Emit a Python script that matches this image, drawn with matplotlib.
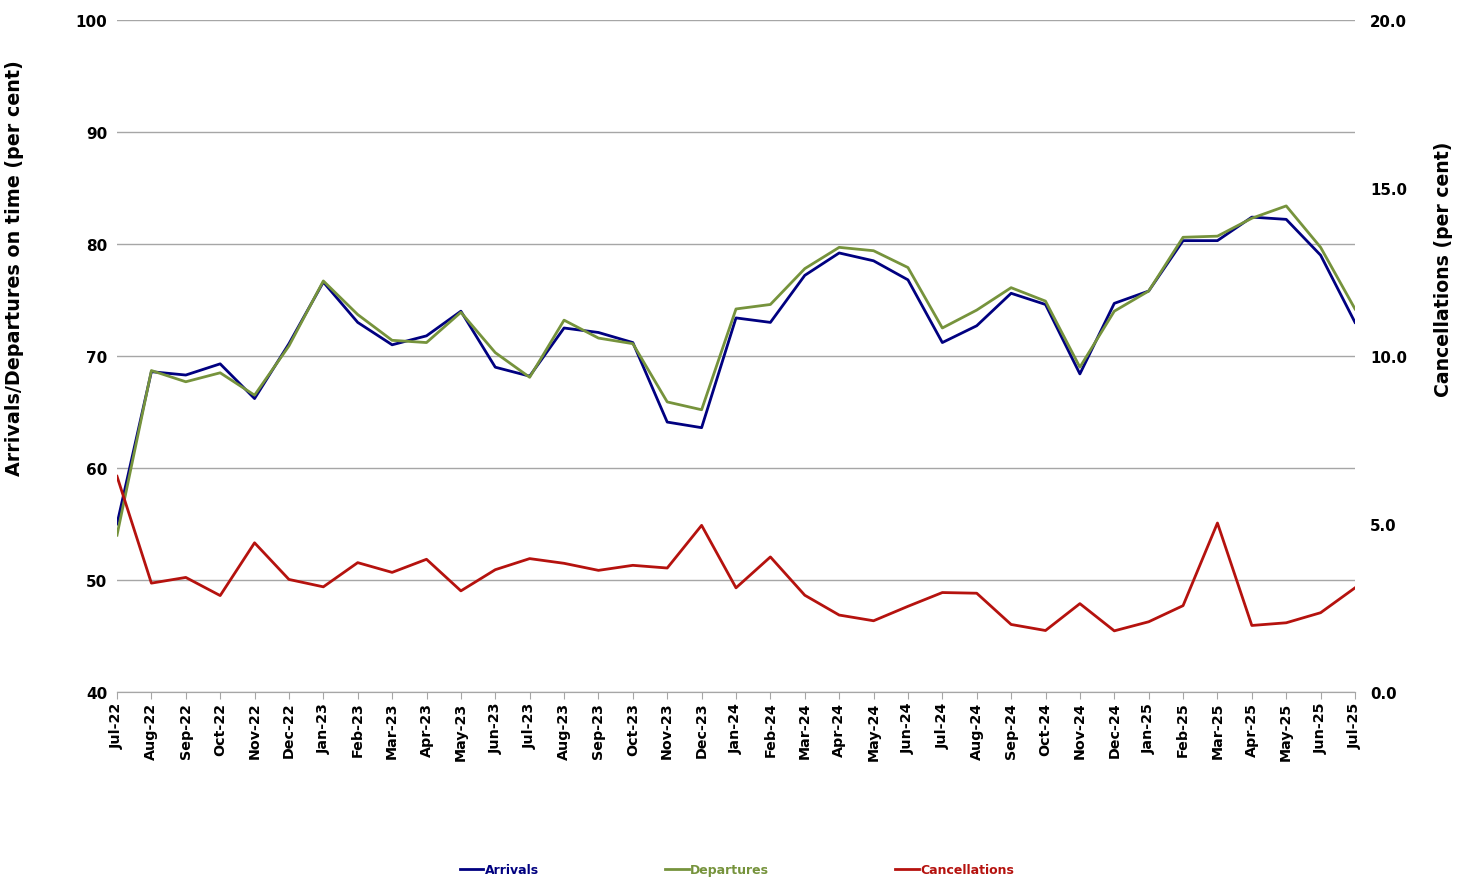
import matplotlib.pyplot as plt

# Monatsbeschriftungen
months = ['Jul-22', 'Aug-22', 'Sep-22', 'Oct-22', 'Nov-22', 'Dec-22',
          'Jan-23', 'Feb-23', 'Mar-23', 'Apr-23', 'May-23', 'Jun-23',
          'Jul-23', 'Aug-23', 'Sep-23', 'Oct-23', 'Nov-23', 'Dec-23',
          'Jan-24', 'Feb-24', 'Mar-24', 'Apr-24', 'May-24', 'Jun-24',
          'Jul-24', 'Aug-24', 'Sep-24', 'Oct-24', 'Nov-24', 'Dec-24',
          'Jan-25', 'Feb-25', 'Mar-25', 'Apr-25', 'May-25', 'Jun-25',
          'Jul-25']

arrivals = [55.0, 68.6, 68.3, 69.3, 66.2, 71.1, 76.6, 73.0, 71.0, 71.8,
            74.0, 69.0, 68.2, 72.5, 72.1, 71.2, 64.1, 63.6, 73.4, 73.0,
            77.2, 79.2, 78.5, 76.8, 71.2, 72.7, 75.6, 74.6, 68.4, 74.7,
            75.8, 80.3, 80.3, 82.4, 82.2, 79.0, 73.0]

departures = [54.0, 68.7, 67.7, 68.5, 66.5, 70.9, 76.7, 73.7, 71.4, 71.2,
              73.9, 70.3, 68.1, 73.2, 71.6, 71.1, 65.9, 65.2, 74.2, 74.6,
              77.8, 79.7, 79.4, 77.9, 72.5, 74.1, 76.1, 74.9, 69.0, 74.0,
              75.8, 80.6, 80.7, 82.3, 83.4, 79.7, 74.2]

cancellations = [6.42, 3.24, 3.41, 2.87, 4.44, 3.35, 3.13, 3.85, 3.56, 3.95,
                 3.01, 3.64, 3.97, 3.83, 3.62, 3.77, 3.69, 4.96, 3.10, 4.02,
                 2.88, 2.29, 2.12, 2.55, 2.96, 2.94, 2.01, 1.83, 2.63, 1.82,
                 2.09, 2.57, 5.03, 1.98, 2.06, 2.36, 3.10]

x = list(range(len(months)))

fig = plt.figure(figsize=(14.68, 8.95), dpi=100)
ax = fig.add_axes([117/1468, 1 - 693/895, (1355-117)/1468, (693-21)/895])
ax2 = ax.twinx()

l1, = ax.plot(x, arrivals, color='#000080', lw=2, label='Arrivals')
l2, = ax.plot(x, departures, color='#76933C', lw=2, label='Departures')
l3, = ax2.plot(x, cancellations, color='#B5120E', lw=2, label='Cancellations')

ax.set_ylim(40, 100)
ax.set_yticks(range(40, 101, 10))
ax2.set_ylim(0, 20)
ax2.set_yticks([0, 5, 10, 15, 20])
ax2.set_yticklabels(['%.1f' % v for v in [0, 5, 10, 15, 20]])
ax.set_xlim(0, len(months) - 1)
ax.set_xticks(x)
ax.set_xticklabels(months, rotation=90, fontsize=10.3, fontweight='bold')

ax.grid(axis='y', color='#A6A6A6', lw=1)
ax.set_axisbelow(True)
for a in (ax, ax2):
    for s in ('top', 'left', 'right'):
        a.spines[s].set_visible(False)
    a.spines['bottom'].set_color('#A6A6A6')
ax.tick_params(axis='y', length=0, labelsize=11, pad=7)
ax2.tick_params(axis='y', length=0, labelsize=10.8, pad=11)
ax.tick_params(axis='x', length=5, color='#A6A6A6', pad=2)
for t in ax.get_yticklabels() + ax2.get_yticklabels():
    t.set_fontweight('bold')

ax.set_ylabel('Arrivals/Departures on time (per cent)', fontsize=13.8,
              fontweight='bold')
ax.yaxis.set_label_coords(-0.075, 0.632)
ax2.set_ylabel('Cancellations (per cent)', fontsize=13.6, fontweight='bold')
ax2.yaxis.set_label_coords(1.064, 0.63)

fig.legend(handles=[l1, l2, l3], loc='center', bbox_to_anchor=(0.502, 1 - 871/895),
           ncol=3, frameon=False, labelcolor='linecolor', handlelength=1.9,
           handletextpad=0.1, columnspacing=10.1,
           prop={'weight': 'bold', 'size': 9})

fig.savefig('out.png', dpi=100)
